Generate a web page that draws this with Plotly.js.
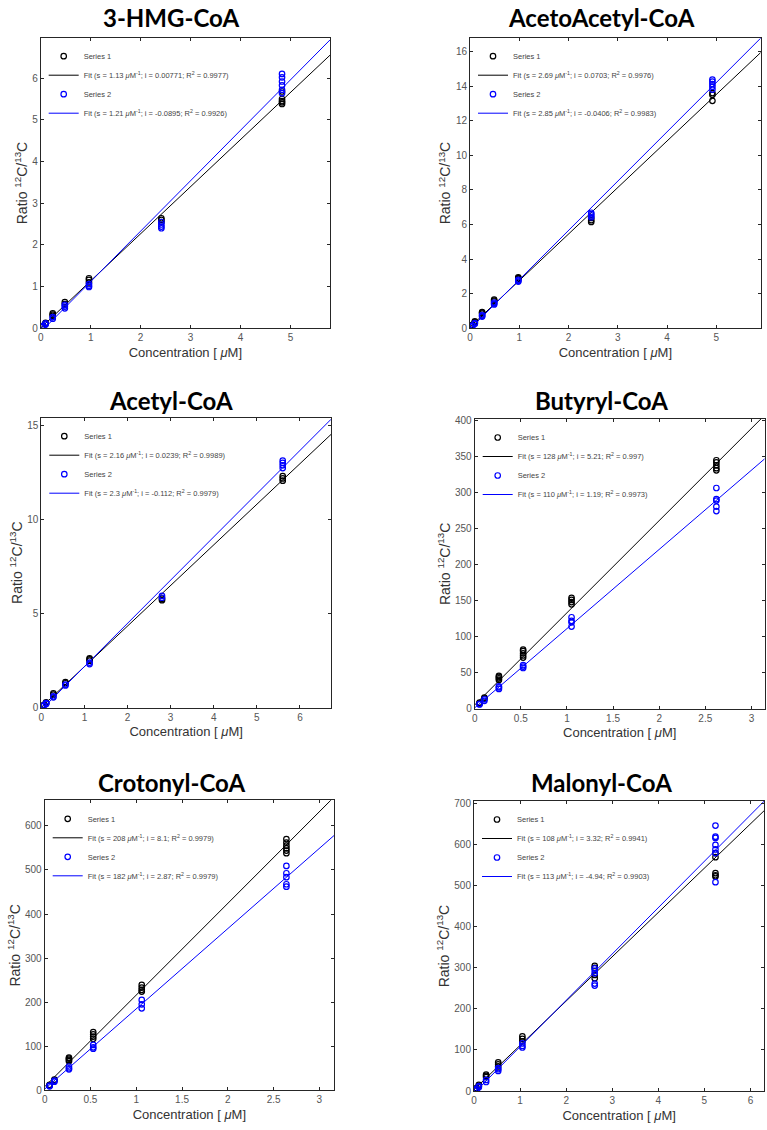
<!DOCTYPE html>
<html><head><meta charset="utf-8">
<script src="https://cdn.plot.ly/plotly-3.0.1.min.js"></script>
<style>html,body{margin:0;padding:0;background:#fff}#chart{width:767px;height:1130px}</style>
</head><body><div id="chart"></div>
<script>
// ---------- DATA ----------
const panelTitles = ['3-HMG-CoA', 'AcetoAcetyl-CoA', 'Acetyl-CoA', 'Butyryl-CoA', 'Crotonyl-CoA', 'Malonyl-CoA'];

// 3-HMG-CoA
const hmgX1 = [0.048,0.048, 0.097,0.097, 0.241,0.241,0.241, 0.483,0.483, 0.966,0.966,0.966, 2.415,2.415,2.415, 4.83,4.83,4.83,4.83,4.83];
const hmgY1 = [0.05,0.06, 0.11,0.13, 0.30,0.33,0.36, 0.58,0.63, 1.10,1.16,1.20, 2.55,2.60,2.64, 5.38,5.42,5.45,5.50,5.68];
const hmgX2 = [0.048,0.048, 0.097,0.097, 0.241,0.241, 0.483,0.483,0.483, 0.966,0.966,0.966, 2.415,2.415,2.415,2.415, 4.83,4.83,4.83,4.83,4.83,4.83];
const hmgY2 = [0.04,0.06, 0.09,0.12, 0.23,0.27, 0.48,0.52,0.56, 0.99,1.02,1.06, 2.40,2.44,2.49,2.55, 5.64,5.72,5.83,5.92,6.02,6.10];

// AcetoAcetyl-CoA
const aacX1 = [0.049,0.049, 0.098,0.098, 0.246,0.246,0.246, 0.49,0.49,0.49, 0.98,0.98,0.98, 2.46,2.46,2.46, 4.92,4.92,4.92];
const aacY1 = [0.17,0.20, 0.36,0.40, 0.85,0.90,0.94, 1.55,1.60,1.66, 2.85,2.90,2.95, 6.15,6.25,6.38, 13.15,13.50,13.60];
const aacX2 = [0.049,0.049, 0.098,0.098, 0.246,0.246,0.246, 0.49,0.49,0.49, 0.98,0.98,0.98, 2.46,2.46,2.46,2.46, 4.92,4.92,4.92,4.92,4.92];
const aacY2 = [0.13,0.16, 0.26,0.30, 0.68,0.72,0.77, 1.38,1.43,1.48, 2.70,2.75,2.80, 6.42,6.52,6.60,6.68, 13.80,13.97,14.12,14.26,14.38];

// Acetyl-CoA
const acX1 = [0.056,0.056, 0.112,0.112, 0.28,0.28, 0.56,0.56, 1.12,1.12,1.12, 2.8,2.8, 5.6,5.6,5.6];
const acY1 = [0.13,0.15, 0.25,0.28, 0.70,0.76, 1.30,1.36, 2.50,2.57,2.62, 5.72,5.80, 12.08,12.20,12.32];
const acX2 = [0.056,0.056, 0.112,0.112, 0.28,0.28, 0.56,0.56, 1.12,1.12, 2.8,2.8, 5.6,5.6,5.6,5.6];
const acY2 = [0.10,0.12, 0.20,0.24, 0.55,0.60, 1.18,1.23, 2.32,2.40, 5.85,5.95, 12.75,12.90,13.03,13.15];

// Butyryl-CoA
const buX1 = [0.0525,0.0525, 0.105,0.105, 0.2625,0.2625,0.2625,0.2625, 0.525,0.525,0.525,0.525,0.525, 1.05,1.05,1.05,1.05, 2.62,2.62,2.62,2.62,2.62];
const buY1 = [7.5,8.5, 14,15.5, 40,42,44,45.5, 71,74,77,80,82, 145,148,151,154, 331,334,338,342,345];
const buX2 = [0.0525,0.0525, 0.105,0.105, 0.2625,0.2625,0.2625, 0.525,0.525,0.525, 1.05,1.05,1.05,1.05, 2.62,2.62,2.62,2.62,2.62];
const buY2 = [5.8,6.8, 11,13, 27.5,29.5,31, 56.5,58.5,60.5, 114,120,122,127, 274.5,280.5,289,291,306.5];

// Crotonyl-CoA
const crX1 = [0.053,0.053, 0.106,0.106, 0.265,0.265,0.265,0.265, 0.53,0.53,0.53,0.53, 1.06,1.06,1.06,1.06, 2.64,2.64,2.64,2.64,2.64,2.64];
const crY1 = [11,12.5, 22,24, 66,69,72,74, 117,122,127,132, 224,228,233,239, 538,544,549,555,562,570];
const crX2 = [0.053,0.053, 0.106,0.106, 0.265,0.265,0.265, 0.53,0.53,0.53, 1.06,1.06,1.06, 2.64,2.64,2.64,2.64,2.64];
const crY2 = [9,10.5, 19.5,22, 47.5,50,54, 94.5,97.5,103, 186,195,205, 462,467.5,483.5,492.5,509];

// Malonyl-CoA
const maX1 = [0.0525,0.0525, 0.105,0.105, 0.2625,0.2625,0.2625, 0.525,0.525,0.525, 1.05,1.05,1.05, 2.62,2.62,2.62,2.62, 5.24,5.24,5.24,5.24,5.24];
const maY1 = [5,7, 12,15, 34,37,40, 60,65,70, 121,127,133, 275,283,300,305, 523,526,531,570,580];
const maX2 = [0.0525,0.0525, 0.105,0.105, 0.2625,0.2625, 0.525,0.525,0.525, 1.05,1.05,1.05, 2.62,2.62,2.62,2.62,2.62, 5.24,5.24,5.24,5.24,5.24,5.24,5.24];
const maY2 = [3,5, 9,12, 22,27, 49,53,56, 106,110,116, 257,262,287,293,299, 509,580,589,600,617,620,647];

// Fit parameters (slope s, intercept i, R^2) for Series 1 / Series 2
const fitSlope1 = [1.13, 2.69, 2.16, 128, 208, 108];
const fitInt1   = [0.00771, 0.0703, 0.0239, 5.21, 8.1, 3.32];
const fitR2_1   = ['0.9977', '0.9976', '0.9989', '0.997', '0.9979', '0.9941'];
const fitSlope2 = [1.21, 2.85, 2.3, 110, 182, 113];
const fitInt2   = [-0.0895, -0.0406, -0.112, 1.19, 2.87, -4.94];
const fitR2_2   = ['0.9926', '0.9983', '0.9979', '0.9973', '0.9979', '0.9903'];

// Axis ranges and tick steps
const xMax = [5.79, 5.90, 6.72, 3.144, 3.16, 6.30];
const yMax = [6.97, 16.8, 15.43, 402.3, 658, 707];
const xStep = [1, 1, 1, 0.5, 0.5, 1];
const yStep = [1, 2, 5, 50, 100, 100];

const seriesX1 = [hmgX1, aacX1, acX1, buX1, crX1, maX1];
const seriesY1 = [hmgY1, aacY1, acY1, buY1, crY1, maY1];
const seriesX2 = [hmgX2, aacX2, acX2, buX2, crX2, maX2];
const seriesY2 = [hmgY2, aacY2, acY2, buY2, crY2, maY2];

// ---------- LAYOUT (pixel boxes of each plot area) ----------
const W = 767, H = 1130;
const boxes = [ // [left, right, top, bottom] in px
  [40.7, 330.0, 37.7, 328.3],
  [470.0, 760.7, 37.7, 328.3],
  [41.3, 331.0, 417.7, 707.7],
  [474.7, 764.7, 419.0, 708.7],
  [44.7, 334.0, 800.3, 1090.3],
  [474.0, 764.3, 801.0, 1091.0]
];
const titleCenters = [[171, 18], [601, 18], [171, 400], [601, 400], [171, 782], [601, 782]];

const BLACK = '#000000', BLUE = '#0000ff';
const FONT = 'Liberation Sans, Arial, sans-serif';
const traces = [];
const layout = {
  width: W, height: H,
  margin: {l: 0, r: 0, t: 0, b: 0},
  paper_bgcolor: '#ffffff', plot_bgcolor: '#ffffff',
  showlegend: true,
  annotations: [],
  font: {family: FONT, color: '#333'}
};

for (let p = 0; p < 6; p++) {
  const n = p === 0 ? '' : String(p + 1);
  const xa = 'x' + n, ya = 'y' + n;
  const lg = 'legend' + n;
  const b = boxes[p];
  layout['xaxis' + n] = {
    domain: [b[0] / W, b[1] / W], anchor: ya,
    range: [0, xMax[p]], dtick: xStep[p], tick0: 0,
    showline: true, mirror: 'ticks', linecolor: '#262626', linewidth: 1,
    ticks: 'inside', ticklen: 3, tickcolor: '#262626',
    showgrid: false, zeroline: false, automargin: false, fixedrange: true,
    tickfont: {family: FONT, size: 10, color: '#555'},
    title: {text: 'Concentration [ <i>μ</i>M]', standoff: 5,
            font: {family: FONT, size: 13, color: '#333'}}
  };
  layout['yaxis' + n] = {
    domain: [1 - b[3] / H, 1 - b[2] / H], anchor: xa,
    range: [0, yMax[p]], dtick: yStep[p], tick0: 0,
    showline: true, mirror: 'ticks', linecolor: '#262626', linewidth: 1,
    ticks: 'inside', ticklen: 3, tickcolor: '#262626',
    showgrid: false, zeroline: false, automargin: false, fixedrange: true,
    tickfont: {family: FONT, size: 10, color: '#555'},
    title: {text: 'Ratio <sup>12</sup>C/<sup>13</sup>C', standoff: 1,
            font: {family: FONT, size: 14, color: '#333'}}
  };
  layout[lg] = {
    x: (b[0] + 3) / W, y: 1 - (b[2] + 4) / H, xanchor: 'left', yanchor: 'top',
    xref: 'paper', yref: 'paper',
    bgcolor: 'rgba(0,0,0,0)', borderwidth: 0, itemwidth: 30, tracegroupgap: 0,
    font: {family: FONT, size: 7.5, color: '#444'}
  };
  layout.annotations.push({
    text: '<b>' + panelTitles[p] + '</b>', xref: 'paper', yref: 'paper',
    x: titleCenters[p][0] / W, y: 1 - titleCenters[p][1] / H,
    xanchor: 'center', yanchor: 'middle', showarrow: false,
    font: {family: 'Lato, Open Sans, sans-serif', size: 24, color: '#000'}
  });

  const fx = [0, xMax[p]];
  traces.push({
    type: 'scatter', mode: 'markers', x: seriesX1[p], y: seriesY1[p], xaxis: xa, yaxis: ya,
    name: 'Series 1', legend: lg,
    marker: {symbol: 'circle-open', size: 5.5, color: BLACK, line: {width: 1.2, color: BLACK}}
  });
  traces.push({
    type: 'scatter', mode: 'lines', x: fx, y: fx.map(v => fitSlope1[p] * v + fitInt1[p]), xaxis: xa, yaxis: ya,
    name: 'Fit (s = ' + fitSlope1[p] + ' <i>μ</i>M<sup>-1</sup>; i = ' + fitInt1[p] + '; R<sup>2</sup> = ' + fitR2_1[p] + ')',
    legend: lg, line: {color: BLACK, width: 1}
  });
  traces.push({
    type: 'scatter', mode: 'markers', x: seriesX2[p], y: seriesY2[p], xaxis: xa, yaxis: ya,
    name: 'Series 2', legend: lg,
    marker: {symbol: 'circle-open', size: 5.5, color: BLUE, line: {width: 1.2, color: BLUE}}
  });
  traces.push({
    type: 'scatter', mode: 'lines', x: fx, y: fx.map(v => fitSlope2[p] * v + fitInt2[p]), xaxis: xa, yaxis: ya,
    name: 'Fit (s = ' + fitSlope2[p] + ' <i>μ</i>M<sup>-1</sup>; i = ' + fitInt2[p] + '; R<sup>2</sup> = ' + fitR2_2[p] + ')',
    legend: lg, line: {color: BLUE, width: 1}
  });
}

Plotly.newPlot('chart', traces, layout, {staticPlot: true, displayModeBar: false});
</script>
</body></html>
